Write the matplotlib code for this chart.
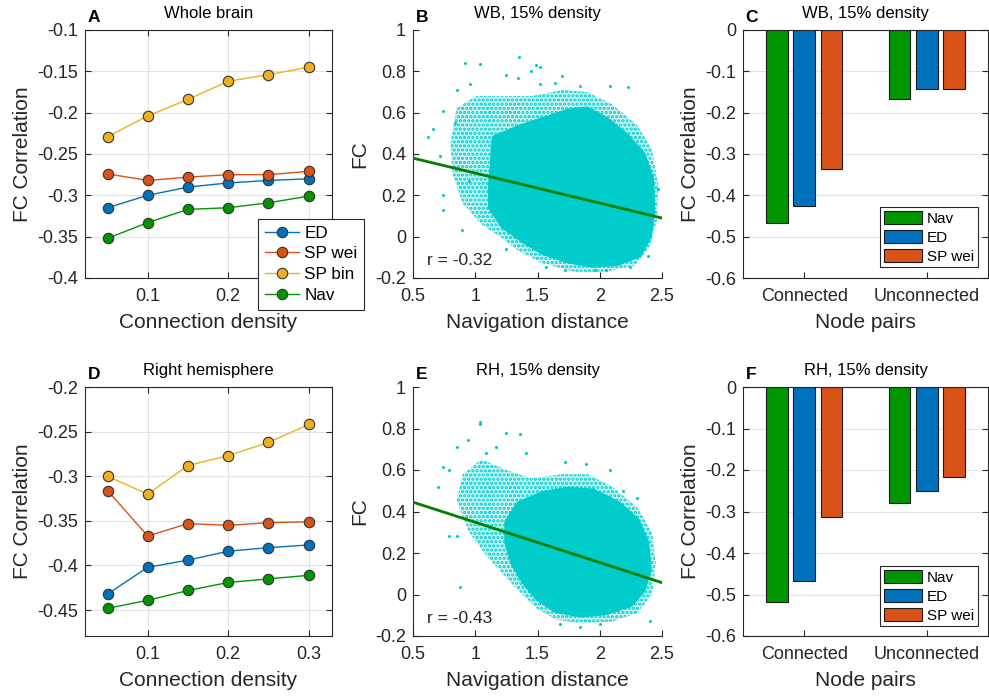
import matplotlib
matplotlib.use("Agg")
import matplotlib.pyplot as plt
from matplotlib.patches import Polygon
from matplotlib.ticker import FuncFormatter
import numpy as np

plt.rcParams["font.family"] = ["Liberation Sans", "DejaVu Sans"]
plt.rcParams["axes.unicode_minus"] = False
plt.rcParams["hatch.linewidth"] = 1.6

# ======================================================
# DATA
# ======================================================

density = [0.05, 0.10, 0.15, 0.20, 0.25, 0.30]
series_names = ["ED", "SP wei", "SP bin", "Nav"]

wb_ed = [-0.315, -0.300, -0.290, -0.285, -0.282, -0.280]
wb_spwei = [-0.274, -0.282, -0.278, -0.275, -0.275, -0.271]
wb_spbin = [-0.229, -0.204, -0.184, -0.162, -0.154, -0.145]
wb_nav = [-0.352, -0.333, -0.317, -0.315, -0.309, -0.301]

rh_ed = [-0.432, -0.402, -0.394, -0.384, -0.380, -0.377]
rh_spwei = [-0.316, -0.367, -0.353, -0.355, -0.352, -0.351]
rh_spbin = [-0.300, -0.320, -0.288, -0.277, -0.262, -0.242]
rh_nav = [-0.448, -0.439, -0.428, -0.419, -0.415, -0.411]

pair_groups = ["Connected", "Unconnected"]
bar_names = ["Nav", "ED", "SP wei"]
wb_bars = {"Nav": [-0.466, -0.168], "ED": [-0.426, -0.142], "SP wei": [-0.336, -0.142]}
rh_bars = {"Nav": [-0.517, -0.279], "ED": [-0.467, -0.250], "SP wei": [-0.314, -0.218]}

# scatter clouds: dense core outline, speckled fringe outline, isolated points
wb_core_x = [1.12, 1.15, 1.35, 1.55, 1.75, 1.90, 2.05, 2.20, 2.35, 2.42, 2.43, 2.40, 2.32, 2.15, 1.95, 1.75, 1.55, 1.38, 1.22, 1.12]
wb_core_y = [0.25, 0.48, 0.53, 0.57, 0.61, 0.62, 0.57, 0.50, 0.40, 0.28, 0.12, 0.00, -0.09, -0.13, -0.14, -0.12, -0.08, -0.02, 0.05, 0.14]
wb_fringe_x = [0.80, 0.85, 1.00, 1.20, 1.45, 1.70, 1.90, 2.10, 2.30, 2.42, 2.47, 2.46, 2.40, 2.28, 2.05, 1.80, 1.55, 1.35, 1.20, 1.05, 0.90, 0.82]
wb_fringe_y = [0.45, 0.62, 0.68, 0.68, 0.68, 0.71, 0.70, 0.64, 0.54, 0.42, 0.25, 0.08, -0.05, -0.14, -0.17, -0.17, -0.13, -0.07, 0.00, 0.06, 0.16, 0.30]
wb_pts_x = [0.92, 1.04, 1.35, 1.49, 1.52, 1.25, 1.34, 1.45, 1.52, 1.64, 1.70, 2.08, 2.23, 1.84, 0.74, 0.62, 0.66, 0.72,
            0.74, 0.74, 0.89, 0.84, 0.85, 0.96, 0.95, 2.47, 1.25, 1.57, 1.72, 1.96, 2.24, 2.39, 2.05]
wb_pts_y = [0.84, 0.835, 0.87, 0.83, 0.82, 0.78, 0.77, 0.80, 0.74, 0.745, 0.775, 0.73, 0.725, 0.73, 0.61, 0.48, 0.52, 0.39,
            0.20, 0.13, 0.03, 0.55, 0.71, 0.74, 0.27, 0.23, -0.06, -0.145, -0.16, -0.16, -0.145, -0.095, -0.16]

rh_core_x = [1.25, 1.35, 1.55, 1.75, 1.95, 2.15, 2.30, 2.38, 2.40, 2.35, 2.25, 2.05, 1.85, 1.65, 1.50, 1.40, 1.30, 1.25]
rh_core_y = [0.35, 0.44, 0.49, 0.51, 0.50, 0.44, 0.36, 0.25, 0.12, 0.02, -0.05, -0.09, -0.10, -0.08, -0.02, 0.05, 0.15, 0.25]
rh_fringe_x = [0.85, 0.90, 1.05, 1.25, 1.45, 1.70, 1.90, 2.10, 2.30, 2.42, 2.45, 2.42, 2.30, 2.10, 1.85, 1.65, 1.50, 1.38, 1.25, 1.10, 0.95]
rh_fringe_y = [0.45, 0.58, 0.65, 0.60, 0.56, 0.58, 0.58, 0.52, 0.42, 0.30, 0.15, 0.00, -0.09, -0.13, -0.14, -0.12, -0.07, 0.00, 0.08, 0.18, 0.30]
rh_pts_x = [1.04, 1.04, 1.25, 1.36, 0.94, 0.85, 0.74, 0.70, 0.79, 0.79, 0.85, 0.88, 1.72, 1.89, 2.08, 2.30, 2.40, 1.68,
            1.84, 2.00, 1.09, 1.17, 1.41, 2.19]
rh_pts_y = [0.83, 0.82, 0.78, 0.775, 0.745, 0.71, 0.616, 0.52, 0.60, 0.28, 0.28, 0.036, 0.64, 0.63, 0.60, 0.465, -0.13, -0.14,
            -0.155, -0.14, 0.68, 0.71, 0.68, 0.50]

fit_x = [0.5, 2.5]
wb_fit_y = [0.38, 0.09]
rh_fit_y = [0.445, 0.057]

# ======================================================
# STYLE
# ======================================================

C_ED = "#0072BD"
C_SPWEI = "#D95319"
C_SPBIN = "#EDB120"
C_NAV = "#009600"
C_CLOUD = "#00CCCC"
TXT = "#262626"
LABEL_FS = 15
TICK_FS = 13

W, H = 989, 697
fig = plt.figure(figsize=(W / 100, H / 100), dpi=100)


def ax_at(left, top, right, bottom):
    return fig.add_axes([left / W, 1 - bottom / H, (right - left) / W, (bottom - top) / H])


fmt = FuncFormatter(lambda v, p: "%g" % (round(v, 4) + 0.0))


def style_axes(ax, box=True):
    ax.tick_params(direction="in", labelsize=TICK_FS, colors=TXT, length=4, width=0.8,
                   top=box, right=box)
    ax.tick_params(axis="x", pad=7)
    ax.tick_params(axis="y", pad=5)
    for s in ax.spines.values():
        s.set_color(TXT)
        s.set_linewidth(0.8)
    if not box:
        ax.spines["top"].set_visible(False)
        ax.spines["right"].set_visible(False)
    ax.xaxis.set_major_formatter(fmt)
    ax.yaxis.set_major_formatter(fmt)


def labels(ax, xl, yl):
    ax.set_xlabel(xl, fontsize=LABEL_FS, color=TXT, labelpad=6)
    ax.set_ylabel(yl, fontsize=LABEL_FS, color=TXT, labelpad=4)


def panel_title(ax, letter, title):
    ax.text(0.01, 1.02, letter, transform=ax.transAxes, fontsize=12.5, fontweight="bold",
            ha="left", va="bottom")
    ax.text(0.5, 1.035, title, transform=ax.transAxes, fontsize=12, ha="center", va="bottom")


def line_panel(ax, vals, ylim, yticks, letter, title):
    cols = [C_ED, C_SPWEI, C_SPBIN, C_NAV]
    for name, v, c in zip(series_names, vals, cols):
        ax.plot(density, v, "-o", color=c, lw=1.0, ms=7.5, mfc=c, mec="#333333", mew=0.8, label=name)
    ax.set_xlim(0.022, 0.329)
    ax.set_ylim(*ylim)
    ax.set_xticks([0.1, 0.2, 0.3])
    ax.set_yticks(yticks)
    ax.grid(True, color="#e3e3e3", lw=0.8)
    ax.set_axisbelow(True)
    style_axes(ax)
    labels(ax, "Connection density", "FC Correlation")
    panel_title(ax, letter, title)


def scatter_panel(ax, core, fringe, pts, fit_y, rtext, letter, title):
    ax.add_patch(Polygon(np.column_stack(fringe), closed=True, fc="#d2f5f5", ec=C_CLOUD, lw=0,
                         hatch="....", zorder=1))
    ax.add_patch(Polygon(np.column_stack(core), closed=True, fc=C_CLOUD, ec=C_CLOUD, lw=3, zorder=2))
    ax.scatter(pts[0], pts[1], s=5, color=C_CLOUD, lw=0, zorder=2)
    ax.plot(fit_x, fit_y, color="#008000", lw=2.0, zorder=3)
    ax.set_xlim(0.5, 2.5)
    ax.set_ylim(-0.2, 1.0)
    ax.set_xticks([0.5, 1, 1.5, 2, 2.5])
    ax.set_yticks([-0.2, 0, 0.2, 0.4, 0.6, 0.8, 1])
    style_axes(ax, box=False)
    ax.text(0.61, -0.115, rtext, fontsize=12.5, color=TXT, ha="left", va="center")
    labels(ax, "Navigation distance", "FC")
    panel_title(ax, letter, title)


def bar_panel(ax, bars, letter, title, leg_top):
    cols = [C_NAV, C_ED, C_SPWEI]
    offs = [-0.223, 0.0, 0.223]
    x = np.arange(1, len(pair_groups) + 1)
    for name, c, o in zip(bar_names, cols, offs):
        ax.bar(x + o, bars[name], width=0.176, color=c, edgecolor="#1a1a1a", lw=0.8, label=name)
    ax.set_xlim(0.5, 2.5)
    ax.set_ylim(-0.6, 0)
    ax.set_yticks(np.arange(-0.6, 0.01, 0.1))
    ax.yaxis.grid(True, color="#e3e3e3", lw=0.8)
    ax.set_axisbelow(True)
    style_axes(ax)
    ax.set_xticks(x)
    ax.set_xticklabels(pair_groups)
    labels(ax, "Node pairs", "FC Correlation")
    panel_title(ax, letter, title)
    leg = ax.legend(loc="upper right", bbox_to_anchor=(978 / W, 1 - leg_top / H),
                    bbox_transform=fig.transFigure, fontsize=11, fancybox=False,
                    framealpha=1, edgecolor=TXT, handlelength=2.5, handleheight=1.0,
                    handletextpad=0.3, labelspacing=0.25, borderpad=0.25, borderaxespad=0)
    leg.get_frame().set_linewidth(0.8)


axA = ax_at(85, 30, 332, 278)
axB = ax_at(413, 30, 662, 278)
axC = ax_at(743, 30, 988, 278)
axD = ax_at(85, 387, 332, 636)
axE = ax_at(413, 387, 662, 636)
axF = ax_at(743, 387, 988, 636)

line_panel(axA, [wb_ed, wb_spwei, wb_spbin, wb_nav], (-0.4, -0.1),
           np.arange(-0.4, -0.099, 0.05), "A", "Whole brain")
legA = axA.legend(loc="upper left", bbox_to_anchor=(258 / W, 1 - 219 / H),
                  bbox_transform=fig.transFigure, fontsize=12.3, fancybox=False, framealpha=1,
                  edgecolor=TXT, handlelength=2.0, handletextpad=0.3, labelspacing=0.33,
                  borderpad=0.4, borderaxespad=0)
legA.get_frame().set_linewidth(0.8)
legA.set_zorder(10)

line_panel(axD, [rh_ed, rh_spwei, rh_spbin, rh_nav], (-0.479, -0.2),
           np.arange(-0.45, -0.199, 0.05), "D", "Right hemisphere")

scatter_panel(axB, (wb_core_x, wb_core_y), (wb_fringe_x, wb_fringe_y), (wb_pts_x, wb_pts_y),
              wb_fit_y, "r = -0.32", "B", "WB, 15% density")
scatter_panel(axE, (rh_core_x, rh_core_y), (rh_fringe_x, rh_fringe_y), (rh_pts_x, rh_pts_y),
              rh_fit_y, "r = -0.43", "E", "RH, 15% density")

bar_panel(axC, wb_bars, "C", "WB, 15% density", 207)
bar_panel(axF, rh_bars, "F", "RH, 15% density", 566)

fig.savefig("out.png", dpi=100)
